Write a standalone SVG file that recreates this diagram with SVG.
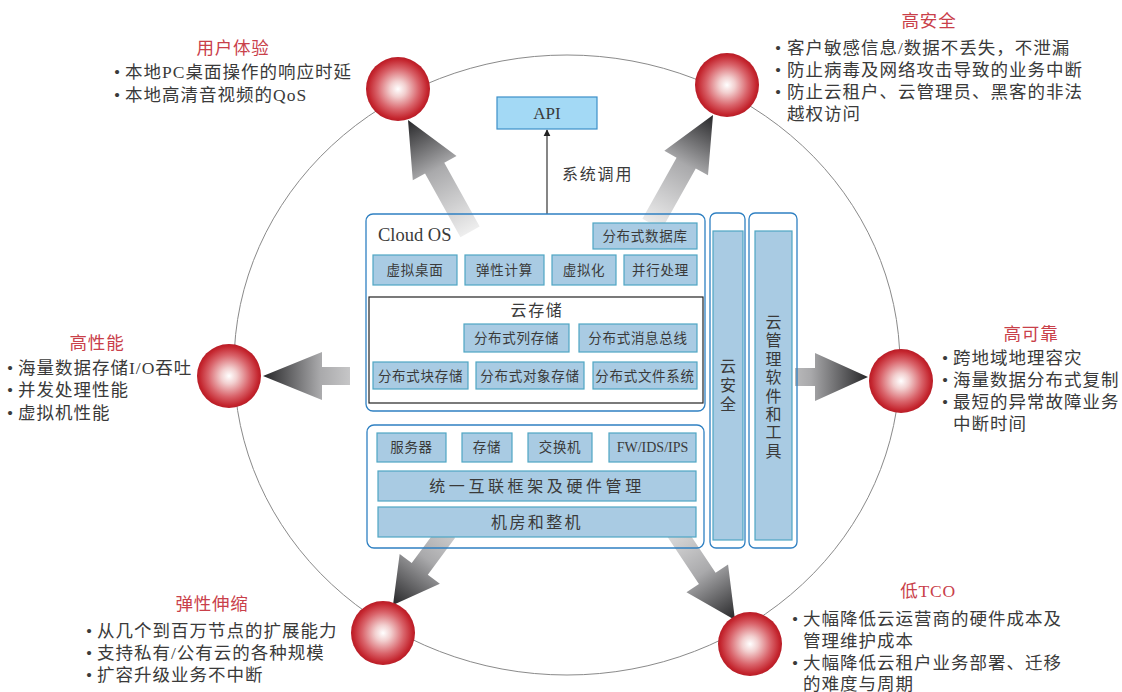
<svg xmlns="http://www.w3.org/2000/svg" width="1122" height="692" viewBox="0 0 1122 692">
  <style>
    text { font-family: "Liberation Serif", "Noto Sans CJK SC", serif; fill: #3a3a3a; }
    .hd { font-size: 17.5px; fill: #c9404a; text-anchor: middle; letter-spacing: 0.8px; }
    .bl { font-size: 17.5px; letter-spacing: 1px; }
    .bx { fill: #a9cbe3; stroke: #4fa6c3; stroke-width: 1.2; }
    .bt { font-size: 13.5px; text-anchor: middle; letter-spacing: 0.7px; }
    .frame { fill: none; stroke: #2f80c2; stroke-width: 1.3; }
    .vt { font-size: 16px; text-anchor: middle; }
    .ball { fill: url(#ballGrad); }
    .arw { fill: url(#arrowGrad); }
  </style>
  <defs>
    <radialGradient id="ballGrad" cx="0.5" cy="0.5" r="0.5">
      <stop offset="0" stop-color="#ffffff"/>
      <stop offset="0.25" stop-color="#f2cfcf"/>
      <stop offset="0.65" stop-color="#d9636a"/>
      <stop offset="0.92" stop-color="#c4252e"/>
      <stop offset="1" stop-color="#b81c26"/>
    </radialGradient>
    <!-- arrows are drawn with the tip at the local origin, pointing along +x -->
    <linearGradient id="arrowGrad" gradientUnits="userSpaceOnUse" x1="-130" y1="0" x2="0" y2="0">
      <stop offset="0" stop-color="#f0f0f0"/>
      <stop offset="0.56" stop-color="#a9a9ab"/>
      <stop offset="1" stop-color="#262628"/>
    </linearGradient>
    <marker id="tip" viewBox="0 0 10 10" refX="9" refY="5" markerWidth="7" markerHeight="8" orient="auto" markerUnits="userSpaceOnUse">
      <path d="M0,0 L10,5 L0,10 Z" fill="#222"/>
    </marker>
  </defs>

  <!-- outer ring -->
  <ellipse cx="567" cy="365" rx="333" ry="310" fill="none" stroke="#8a8a8a" stroke-width="1"/>

  <!-- connectors -->
  <g id="connectors">
    <polygon class="arw" transform="translate(408,120) rotate(-119)" points="-128,-11 -55,-11 -55,-25 0,0 -55,25 -55,11 -128,11"/>
    <polygon class="arw" transform="translate(713,115) rotate(-60.8)" points="-125,-11 -55,-11 -55,-25 0,0 -55,25 -55,11 -125,11"/>
    <polygon class="arw" transform="translate(263,376) rotate(180)" points="-87,-9 -59,-9 -59,-24 0,0 -59,24 -59,9 -87,9"/>
    <polygon class="arw" transform="translate(868,377)" points="-73,-9 -53,-9 -53,-24 0,0 -53,24 -53,9 -73,9"/>
    <polygon class="arw" transform="translate(393,605) rotate(126.5)" points="-91,-10 -45,-10 -45,-25 0,0 -45,25 -45,10 -91,10"/>
    <polygon class="arw" transform="translate(735,620) rotate(56.3)" points="-108,-10 -50,-10 -50,-25 0,0 -50,25 -50,10 -108,10"/>
    <line x1="547" y1="214" x2="547" y2="130" stroke="#444" stroke-width="1.3" marker-end="url(#tip)"/>
    <text x="562" y="180" style="font-size:16px;letter-spacing:1.8px">系统调用</text>
  </g>

  <!-- API -->
  <g id="api">
    <rect x="497" y="97" width="100" height="32" fill="#a3d9f5" stroke="#3d8fc8" stroke-width="1.2"/>
    <text x="547" y="119" style="font-size:17px;text-anchor:middle">API</text>
  </g>

  <!-- Cloud OS -->
  <g id="cloud-os">
    <rect class="frame" x="366" y="214" width="339" height="197" rx="7"/>
    <text x="378" y="241" style="font-size:18.5px">Cloud OS</text>
    <rect class="bx" x="593" y="223" width="104" height="26"/>
    <text class="bt" x="645" y="241">分布式数据库</text>
    <rect class="bx" x="373" y="255" width="84" height="30"/>
    <text class="bt" x="415" y="275">虚拟桌面</text>
    <rect class="bx" x="465" y="255" width="79" height="30"/>
    <text class="bt" x="504.5" y="275">弹性计算</text>
    <rect class="bx" x="552" y="255" width="64" height="30"/>
    <text class="bt" x="584" y="275">虚拟化</text>
    <rect class="bx" x="624" y="255" width="73" height="30"/>
    <text class="bt" x="660.5" y="275">并行处理</text>
  </g>

  <!-- cloud storage -->
  <g id="cloud-storage">
    <rect x="369" y="297" width="334" height="106" fill="none" stroke="#222" stroke-width="1.2"/>
    <text x="537" y="316" style="font-size:16px;text-anchor:middle;letter-spacing:1.7px">云存储</text>
    <rect class="bx" x="464" y="324" width="105" height="28"/>
    <text class="bt" x="516.5" y="343">分布式列存储</text>
    <rect class="bx" x="579" y="324" width="118" height="28"/>
    <text class="bt" x="638" y="343">分布式消息总线</text>
    <rect class="bx" x="373" y="362" width="95" height="27"/>
    <text class="bt" x="420.5" y="380.5">分布式块存储</text>
    <rect class="bx" x="476" y="362" width="108" height="27"/>
    <text class="bt" x="530" y="380.5">分布式对象存储</text>
    <rect class="bx" x="593" y="362" width="104" height="27"/>
    <text class="bt" x="645" y="380.5">分布式文件系统</text>
  </g>

  <!-- hardware layer -->
  <g id="hardware">
    <rect class="frame" x="367" y="425" width="337" height="123" rx="7"/>
    <rect class="bx" x="377" y="433" width="69" height="29"/>
    <text class="bt" x="411.5" y="452">服务器</text>
    <rect class="bx" x="462" y="433" width="50" height="29"/>
    <text class="bt" x="487" y="452">存储</text>
    <rect class="bx" x="528" y="433" width="64" height="29"/>
    <text class="bt" x="560" y="452">交换机</text>
    <rect class="bx" x="609" y="433" width="87" height="29"/>
    <text x="652.5" y="452" style="font-size:14px;text-anchor:middle">FW/IDS/IPS</text>
    <rect class="bx" x="378" y="471" width="318" height="30"/>
    <text x="537" y="492" style="font-size:16px;text-anchor:middle;letter-spacing:3.6px">统一互联框架及硬件管理</text>
    <rect class="bx" x="378" y="507" width="318" height="30"/>
    <text x="537" y="528" style="font-size:16px;text-anchor:middle;letter-spacing:2.4px">机房和整机</text>
  </g>

  <!-- cloud security column -->
  <g id="cloud-security">
    <rect class="frame" x="710" y="213" width="35" height="335" rx="6"/>
    <rect class="bx" x="713" y="231" width="30" height="309"/>
    <text class="vt"><tspan x="728" y="372">云</tspan><tspan x="728" y="391">安</tspan><tspan x="728" y="410">全</tspan></text>
  </g>

  <!-- management column -->
  <g id="cloud-mgmt">
    <rect class="frame" x="749" y="213" width="48" height="335" rx="6"/>
    <rect class="bx" x="755" y="231" width="37" height="309"/>
    <text class="vt"><tspan x="773.5" y="328">云</tspan><tspan x="773.5" y="346.4">管</tspan><tspan x="773.5" y="364.8">理</tspan><tspan x="773.5" y="383.2">软</tspan><tspan x="773.5" y="401.6">件</tspan><tspan x="773.5" y="420">和</tspan><tspan x="773.5" y="438.4">工</tspan><tspan x="773.5" y="456.8">具</tspan></text>
  </g>

  <!-- goal: user experience -->
  <g id="goal-ux">
    <circle class="ball" cx="398" cy="89" r="32"/>
    <text class="hd" x="233" y="54">用户体验</text>
    <text class="bl" y="78"><tspan x="114">•</tspan><tspan x="125">本地PC桌面操作的响应时延</tspan></text>
    <text class="bl" y="101"><tspan x="114">•</tspan><tspan x="125">本地高清音视频的QoS</tspan></text>
  </g>

  <!-- goal: security -->
  <g id="goal-security">
    <circle class="ball" cx="727" cy="85" r="32"/>
    <text class="hd" x="929" y="27">高安全</text>
    <text class="bl" y="54"><tspan x="775">•</tspan><tspan x="787">客户敏感信息/数据不丢失，不泄漏</tspan></text>
    <text class="bl" y="76"><tspan x="775">•</tspan><tspan x="787">防止病毒及网络攻击导致的业务中断</tspan></text>
    <text class="bl" y="98"><tspan x="775">•</tspan><tspan x="787">防止云租户、云管理员、黑客的非法</tspan></text>
    <text class="bl" x="787" y="120">越权访问</text>
  </g>

  <!-- goal: performance -->
  <g id="goal-perf">
    <circle class="ball" cx="229" cy="376" r="32"/>
    <text class="hd" x="97" y="349">高性能</text>
    <text class="bl" y="374"><tspan x="7">•</tspan><tspan x="18">海量数据存储I/O吞吐</tspan></text>
    <text class="bl" y="396"><tspan x="7">•</tspan><tspan x="18">并发处理性能</tspan></text>
    <text class="bl" y="419"><tspan x="7">•</tspan><tspan x="18">虚拟机性能</tspan></text>
  </g>

  <!-- goal: reliability -->
  <g id="goal-reliability">
    <circle class="ball" cx="901" cy="381" r="32"/>
    <text class="hd" x="1031" y="340">高可靠</text>
    <text class="bl" y="364"><tspan x="942">•</tspan><tspan x="953">跨地域地理容灾</tspan></text>
    <text class="bl" y="386"><tspan x="942">•</tspan><tspan x="953">海量数据分布式复制</tspan></text>
    <text class="bl" y="408"><tspan x="942">•</tspan><tspan x="953">最短的异常故障业务</tspan></text>
    <text class="bl" x="953" y="430">中断时间</text>
  </g>

  <!-- goal: elasticity -->
  <g id="goal-elastic">
    <circle class="ball" cx="383" cy="633" r="32"/>
    <text class="hd" x="212" y="610">弹性伸缩</text>
    <text class="bl" y="637"><tspan x="86">•</tspan><tspan x="97">从几个到百万节点的扩展能力</tspan></text>
    <text class="bl" y="659"><tspan x="86">•</tspan><tspan x="97">支持私有/公有云的各种规模</tspan></text>
    <text class="bl" y="681"><tspan x="86">•</tspan><tspan x="97">扩容升级业务不中断</tspan></text>
  </g>

  <!-- goal: low TCO -->
  <g id="goal-tco">
    <circle class="ball" cx="750" cy="644" r="32"/>
    <text class="hd" x="928" y="597">低TCO</text>
    <text class="bl" y="625"><tspan x="792">•</tspan><tspan x="803">大幅降低云运营商的硬件成本及</tspan></text>
    <text class="bl" x="803" y="647">管理维护成本</text>
    <text class="bl" y="669"><tspan x="792">•</tspan><tspan x="803">大幅降低云租户业务部署、迁移</tspan></text>
    <text class="bl" x="803" y="690">的难度与周期</text>
  </g>
</svg>
